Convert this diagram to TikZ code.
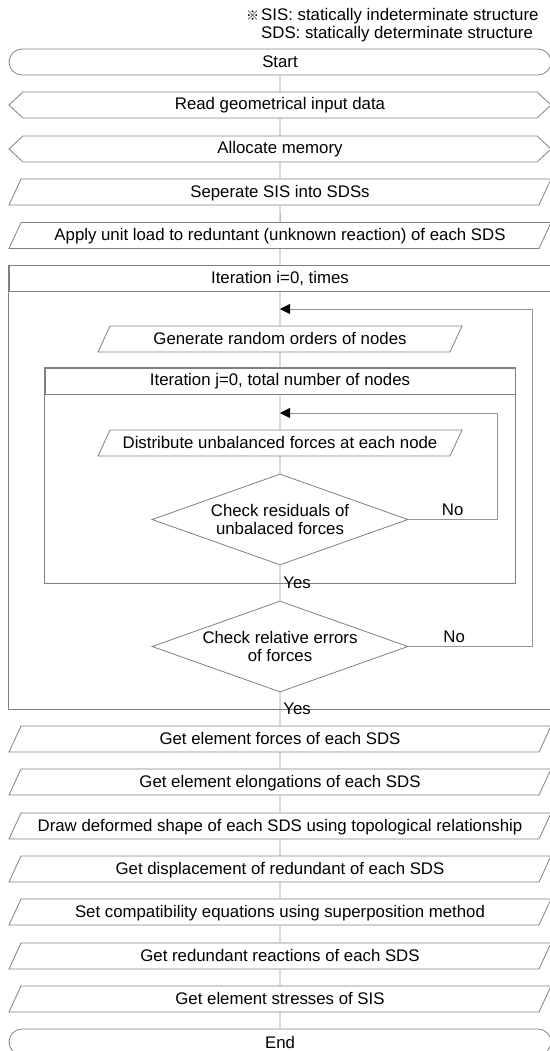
\documentclass[tikz,border=0pt]{standalone}
\usepackage{fontspec}
\setmainfont{Liberation Sans}
\newfontfamily\cjkfont{Noto Sans CJK JP}
\usetikzlibrary{shapes.geometric,shapes.symbols,arrows.meta}
\definecolor{boxgray}{RGB}{128,128,128}
\definecolor{flowgray}{RGB}{150,150,150}
\tikzset{
  boxline/.style={draw=boxgray,line width=0.8pt,inner sep=0pt,minimum height=26pt},
  termbox/.style={boxline,rectangle,rounded corners=13pt,minimum width=542pt},
  prepbox/.style={boxline,signal,signal to=west and east,signal pointer angle=86,minimum width=542pt},
  iobox/.style={boxline,trapezium,trapezium left angle=65.2,trapezium right angle=114.8,
    trapezium stretches body,text height=13pt,text depth=3pt,inner ysep=5pt,minimum width=#1},
  iobox/.default=542pt,
  loophead/.style={boxline,rectangle,minimum width=#1},
  chkbox/.style={boxline,diamond,aspect=2.8,minimum width=256pt,minimum height=91pt,align=center},
  flow/.style={draw=flowgray,line width=0.9pt},
  back/.style={flow,-{Triangle[length=10pt,width=10pt,color=black]}},
}
\begin{document}
\begin{tikzpicture}[x=1pt,y=-1pt,font=\fontsize{16.8}{18}\selectfont]
\useasboundingbox (0,0) rectangle (549,1051);
\node[anchor=west,align=left,inner sep=0pt] (note) at (261,25.5)
  {\llap{{\cjkfont\fontsize{13}{13}\selectfont ※}\hspace{2pt}}SIS: statically indeterminate structure\\
   SDS: statically determinate structure};
% main flow
\node[termbox] (start) at (280,62) {Start};
\node[prepbox] (read) at (280,105) {Read geometrical input data};
\node[prepbox] (alloc) at (280,149) {Allocate memory};
\node[iobox] (split) at (280,192) {Seperate SIS into SDSs};
\node[iobox] (unitload) at (280,235.5) {Apply unit load to reduntant (unknown reaction) of each SDS};
\node[loophead=542pt] (loopi) at (280,278.5) {Iteration i=0, times};
\node[iobox=364pt] (order) at (280,339) {Generate random orders of nodes};
\node[loophead=470pt] (loopj) at (280,381) {Iteration j=0, total number of nodes};
\node[iobox=364pt] (distr) at (280,443) {Distribute unbalanced forces at each node};
\node[chkbox] (chkres) at (280,519.5) {Check residuals of\\unbalaced forces};
\node[chkbox] (chkerr) at (280,646.5) {Check relative errors\\of forces};
\node[iobox] (forces) at (280,739) {Get element forces of each SDS};
\node[iobox] (elong) at (280,782) {Get element elongations of each SDS};
\node[iobox] (shape) at (280,826) {Draw deformed shape of each SDS using topological relationship};
\node[iobox] (displ) at (280,869) {Get displacement of redundant of each SDS};
\node[iobox] (compat) at (280,912) {Set compatibility equations using superposition method};
\node[iobox] (react) at (280,956) {Get redundant reactions of each SDS};
\node[iobox] (stress) at (280,999) {Get element stresses of SIS};
\node[termbox] (end) at (280,1042) {End};
% loop frames
\coordinate (endi) at (551,709);
\coordinate (endj) at (515,583);
\coordinate (backi) at (532,309);
\coordinate (backj) at (497,413);
\draw[boxline] (loopi.north west) rectangle (endi);
\draw[boxline] (loopj.north west) rectangle (endj);
% connectors
\draw[flow] (start) -- (read) -- (alloc) -- (split) -- (unitload) -- (loopi) -- (order) -- (loopj) -- (distr) -- (chkres)
  -- node[right,inner sep=3pt]{Yes} (chkerr) -- node[right,inner sep=3pt]{Yes} (forces)
  -- (elong) -- (shape) -- (displ) -- (compat) -- (react) -- (stress) -- (end);
\draw[back] (chkres.east) -| node[pos=0.25,above,inner sep=3pt]{No} (backj) -- (distr |- backj);
\draw[back] (chkerr.east) -| node[pos=0.185,above,inner sep=3pt]{No} (backi) -- (order |- backi);
\end{tikzpicture}
\end{document}
